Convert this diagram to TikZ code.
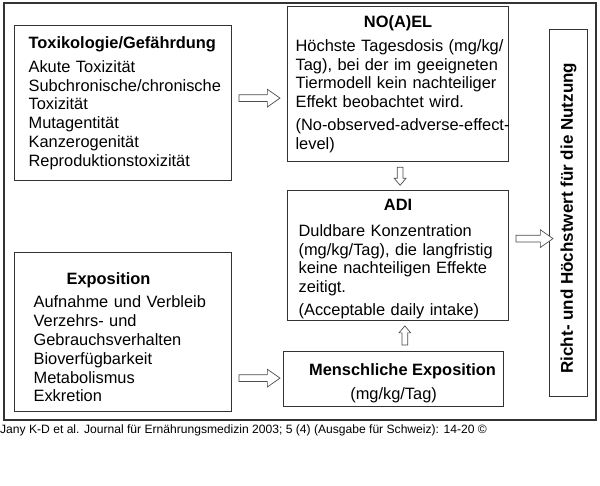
\documentclass[tikz,border=0pt]{standalone}
\usepackage{fontspec}
\setmainfont{Liberation Sans}
\usetikzlibrary{calc,positioning,shapes.arrows}
\tikzset{
  kasten/.style={
    rectangle,
    draw=black!80, line width=1.2pt,
    anchor=north west,
    inner sep=0pt,
    align=left,
    font=\fontsize{16.4}{18.8}\selectfont},
  pfeil/.style={
    single arrow,
    draw=black!70, line width=0.7pt, fill=white,
    inner sep=3pt,
    single arrow head extend=5.5pt,
    single arrow tip angle=70},
  kleinpfeil/.style={
    pfeil,
    inner sep=2.5pt,
    single arrow head extend=3pt,
    single arrow tip angle=80},
  rahmen/.style={draw=black!80, line width=1.2pt},
}

\begin{document}
\begin{tikzpicture}[x=1pt, y=-1pt]
    \useasboundingbox (0,0) rectangle (600,485);
    \draw[rahmen] (4,3) rectangle (596,420);

    \node[kasten, minimum width=217pt, minimum height=155pt, text width=189pt] (tox) at (14,25) {%
        \textbf{Toxikologie/Gefährdung}\\[5pt]
        Akute Toxizität\\
        Subchronische/chronische\\
        Toxizität\\
        Mutagentität\\
        Kanzerogenität\\
        Reproduktionstoxizität};

    \node[kasten, minimum width=221pt, minimum height=155pt, text width=205pt] (noael) at (287,6) {%
        \makebox[\linewidth]{\textbf{NO(A)EL}}\\[5pt]
        \mbox{Höchste Tagesdosis (mg/kg/}\\
        Tag), bei der im geeigneten\\
        Tiermodell kein nachteiliger\\
        Effekt beobachtet wird.\\[4pt]
        \mbox{(No-observed-adverse-effect-}\\
        level)};

    \node[kasten, minimum width=221pt, minimum height=130pt, text width=199pt] (adi) at (287,190) {%
        \rule{0pt}{18pt}\makebox[\linewidth]{\textbf{ADI}}\\[7pt]
        Duldbare Konzentration\\
        (mg/kg/Tag), die langfristig\\
        keine nachteiligen Effekte\\
        zeitigt.\\[4pt]
        (Acceptable daily intake)};

    \node[kasten, minimum width=217pt, minimum height=159pt, text width=179pt] (expo) at (14,252) {%
        \rule{0pt}{22pt}\hspace*{33pt}\textbf{Exposition}\\[5pt]
        Aufnahme und Verbleib\\
        Verzehrs- und\\
        Gebrauchsverhalten\\
        Bioverfügbarkeit\\
        Metabolismus\\
        Exkretion};

    \node[kasten, minimum width=220pt, minimum height=55pt, align=center] (mensch) at (283,351) {%
        \rule{0pt}{20pt}\hspace*{18pt}\textbf{Menschliche Exposition}\\[6pt]
        (mg/kg/Tag)};

    \node[kasten, minimum width=38pt, minimum height=367pt] (nutz) at (549,29) {};
    \node[rotate=90, font=\fontsize{17}{20}\selectfont\bfseries] (nutztext) at ($(nutz.center)+(0,5)$)
        {Richt- und Höchstwert für die Nutzung};

    % the hollow arrows between the boxes
    \node[pfeil, minimum height=41pt, xshift=-2.5pt, yshift=5pt] (p1) at ($(tox.east)!0.5!(tox.east -| noael.west)$) {};
    \node[kleinpfeil, shape border rotate=270, minimum height=18pt, xshift=2pt, yshift=1.5pt] (p2) at ($(noael.south)!0.5!(adi.north)$) {};
    \node[kleinpfeil, shape border rotate=90, minimum height=19pt, xshift=9pt, yshift=-1pt] (p3) at ($(adi.south)!0.5!(mensch.north)$) {};
    \node[pfeil, minimum height=37pt, xshift=3pt, yshift=17pt] (p4) at ($(adi.east)!0.5!(adi.east -| nutz.west)$) {};
    \node[pfeil, minimum height=41pt, xshift=-0.5pt, yshift=1pt] (p5) at ($(expo.east |- mensch.west)!0.5!(mensch.west)$) {};

    \node[anchor=base west, inner sep=0pt, font=\fontsize{12.1}{14}\selectfont] (quelle) at (0,433)
        {Jany K-D et al. Journal für Ernährungsmedizin 2003; 5 (4) (Ausgabe für Schweiz): 14-20 ©};
\end{tikzpicture}
\end{document}
